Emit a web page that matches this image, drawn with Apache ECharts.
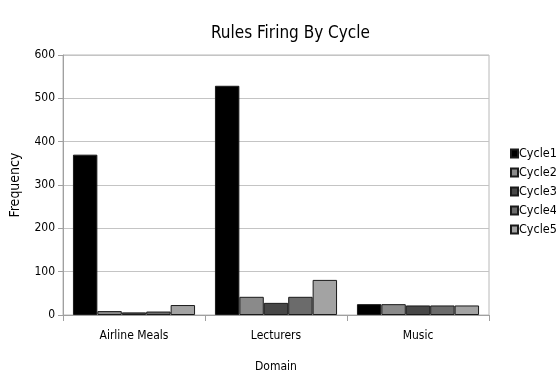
<!DOCTYPE html>
<html>
<head>
<meta charset="utf-8">
<script src="https://cdn.jsdelivr.net/npm/echarts@6/dist/echarts.min.js"></script>
<style>
  html, body { margin: 0; padding: 0; background: #fff; }
  #chart { width: 556px; height: 374px; }
</style>
</head>
<body>
<div id="chart"></div>
<script>
// Domains on the x axis
const domains = ['Airline Meals', 'Lecturers', 'Music'];
// Rule firings per cycle, one array per cycle
const cycle1 = [370, 529, 25];
const cycle2 = [9, 42, 25];
const cycle3 = [6, 28, 22];
const cycle4 = [8, 42, 22];
const cycle5 = [23, 81, 22];
const cycleNames = ['Cycle1', 'Cycle2', 'Cycle3', 'Cycle4', 'Cycle5'];
const yTicks = [0, 100, 200, 300, 400, 500, 600];

const fills = ['#000000', '#8a8a8a', '#474747', '#6b6b6b', '#a3a3a3'];
const font = "'DejaVu Sans Condensed', 'Liberation Sans', Arial, sans-serif";
const seriesData = [cycle1, cycle2, cycle3, cycle4, cycle5];

const chart = echarts.init(document.getElementById('chart'), null, { renderer: 'canvas' });
chart.setOption({
  backgroundColor: '#fff',
  animation: false,
  title: {
    text: 'Rules Firing By Cycle',
    left: 206,
    top: 20,
    textStyle: { fontFamily: font, fontSize: 17, fontWeight: 'normal', color: '#000' }
  },
  legend: {
    orient: 'vertical',
    left: 505,
    top: 142,
    itemWidth: 7,
    itemHeight: 8,
    itemGap: 6,
    icon: 'rect',
    textStyle: { fontFamily: font, fontSize: 12.5, color: '#000', padding: [0, 0, 0, -4] },
    data: cycleNames
  },
  grid: {
    left: 63, right: 67, top: 55, bottom: 59,
    containLabel: false,
    outerBoundsMode: 'none',
    show: true, borderColor: '#b8b8b8', borderWidth: 1
  },
  xAxis: {
    type: 'category',
    data: domains,
    name: 'Domain',
    nameLocation: 'middle',
    nameGap: 46,
    nameTextStyle: { fontFamily: font, fontSize: 12, color: '#000' },
    axisLine: { lineStyle: { color: '#a0a0a0' } },
    axisTick: { show: true, length: 6, lineStyle: { color: '#a0a0a0' } },
    axisLabel: { fontFamily: font, fontSize: 12, color: '#000', margin: 15 }
  },
  yAxis: {
    type: 'value',
    min: yTicks[0],
    max: yTicks[yTicks.length - 1],
    interval: 100,
    name: 'Frequency',
    nameLocation: 'middle',
    nameGap: 41,
    nameTextStyle: { fontFamily: font, fontSize: 14, color: '#000' },
    axisLine: { show: true, lineStyle: { color: '#a0a0a0' } },
    axisTick: { show: true, length: 5, lineStyle: { color: '#a0a0a0' } },
    axisLabel: { fontFamily: font, fontSize: 12, color: '#000', margin: 8 },
    splitLine: { lineStyle: { color: '#c4c4c4' } }
  },
  series: seriesData.map((d, i) => ({
    name: cycleNames[i],
    type: 'bar',
    data: d,
    barGap: '0%',
    barCategoryGap: '14%',
    itemStyle: { color: fills[i], borderColor: '#1a1a1a', borderWidth: 1 }
  }))
});
</script>
</body>
</html>
